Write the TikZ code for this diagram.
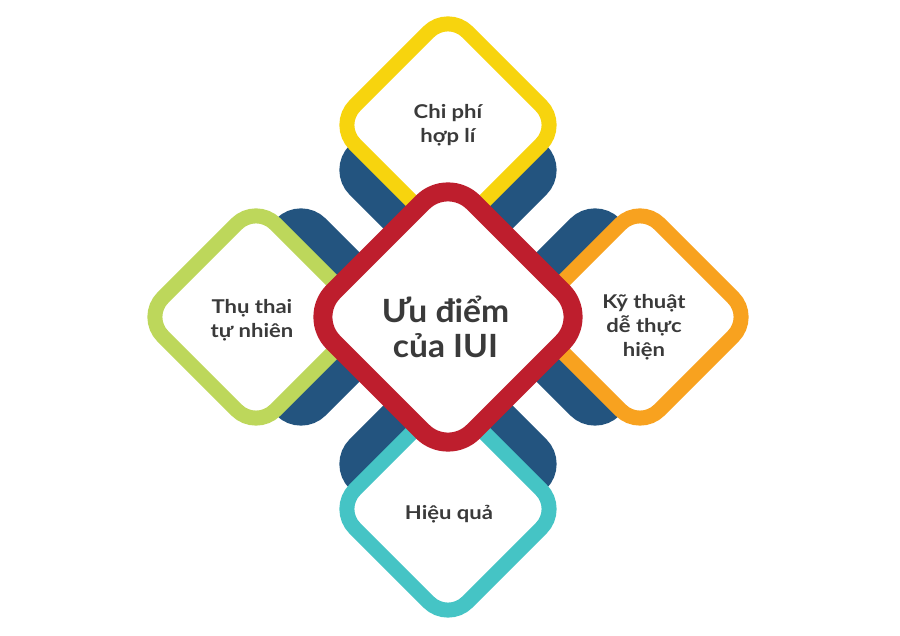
\documentclass[tikz,border=0pt]{standalone}
\usepackage{fontspec}
\setmainfont{Lato}
\newfontfamily\widefont{Lato}[FakeStretch=1.16]
\newfontfamily\midfont{Lato}[FakeStretch=1.05]
\definecolor{iuiblue}{HTML}{23547F}
\definecolor{iuired}{HTML}{BE1E2D}
\definecolor{iuiyellow}{HTML}{F7D40E}
\definecolor{iuigreen}{HTML}{BDD75B}
\definecolor{iuiorange}{HTML}{F8A21F}
\definecolor{iuiteal}{HTML}{45C4C5}
\definecolor{iuitext}{HTML}{3A3A3A}
\tikzset{
  backing/.style={line width=15pt, rounded corners=27.5pt, fill=iuiblue, draw=iuiblue},
  ring/.style={line width=15pt, rounded corners=27.5pt, fill=white, draw=#1},
  bigring/.style={line width=19pt, rounded corners=36pt, fill=white, draw=iuired},
  txt/.style={align=center, text=iuitext, font=\widefont\bfseries\fontsize{19}{24}\selectfont},
  bigtxt/.style={align=center, text=iuitext, font=\midfont\bfseries\fontsize{32}{35}\selectfont}
}
\begin{document}
\begin{tikzpicture}[x=1pt,y=1pt]
   \useasboundingbox (-448,-319) rectangle (452,317);
   % blue plates behind the four outer diamonds
   \foreach \px/\py in {0/147,-147/0,147/0,0/-147}
      \draw[backing,shift={(\px,\py)}] (56.25,56.25) -- (112.5,0) -- (0,-112.5) -- (-112.5,0) -- (0,112.5) -- cycle;
   % outer diamonds
   \foreach \px/\py/\col in {0/192/iuiyellow,-192/0/iuigreen,192/0/iuiorange,0/-192/iuiteal}
      \draw[ring=\col,shift={(\px,\py)}] (56.25,56.25) -- (112.5,0) -- (0,-112.5) -- (-112.5,0) -- (0,112.5) -- cycle;
   % centre diamond
   \draw[bigring] (70,70) -- (140,0) -- (0,-140) -- (-140,0) -- (0,140) -- cycle;
   \node[txt] (cost) at (0,191.5) {Chi phí\\hợp lí};
   \node[txt] (natural) at (-196,-3) {Thụ thai\\tự nhiên};
   \node[txt] (simple) at (196,-10.5) {Kỹ thuật\\dễ thực\\hiện};
   \node[txt] (effect) at (1,-197.5) {Hiệu quả};
   \node[bigtxt] (iui) at (-2.5,-10) {Ưu điểm\\của IUI};
\end{tikzpicture}
\end{document}
